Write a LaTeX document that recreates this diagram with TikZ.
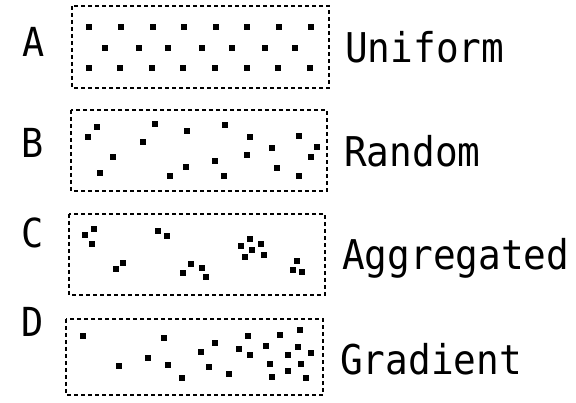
\documentclass[tikz,border=0pt]{standalone}
\usepackage{fontspec}
\setmainfont{DejaVu Sans Mono}
\begin{document}
\begin{tikzpicture}[x=1pt,y=-1pt,
  boxline/.style={line width=2.2pt,dash pattern=on 4pt off 3pt},
  lettertxt/.style={font=\fontsize{40}{40}\selectfont,inner sep=0pt,anchor=base},
  nametxt/.style={font=\fontsize{41}{41}\selectfont,inner sep=0pt,anchor=base west}]
\useasboundingbox (0,0) rectangle (576,403);
% letters
\node[lettertxt] (la) at (34,57) {\scalebox{0.92}[1]{A}};
\node[lettertxt] (lb) at (33,158) {\scalebox{0.92}[1]{B}};
\node[lettertxt] (lc) at (33,248) {\scalebox{0.92}[1]{C}};
\node[lettertxt] (ld) at (33,337) {\scalebox{0.92}[1]{D}};
% boxes
\draw[boxline] (72,6) rectangle (329,88);
\draw[boxline] (71,110) rectangle (327,191);
\draw[boxline] (69,214) rectangle (325,295);
\draw[boxline] (66,319) rectangle (323,395);
% names
\node[nametxt] (na) at (345,63) {\scalebox{0.92}[1]{Uniform}};
\node[nametxt] (nb) at (344,167) {\scalebox{0.92}[1]{Random}};
\node[nametxt] (nc) at (342,270) {\scalebox{0.92}[1]{Aggregated}};
\node[nametxt] (nd) at (340,375) {\scalebox{0.92}[1]{Gradient}};
% dots
\def\ds{3.1}
\foreach \x/\y in {
 89.3/27,121/27,152.7/27,184/27,215.7/27,247.3/27,279/27,310.7/27,
 105/48,139/48,168.3/48,201.7/48,231.7/48,265/48,295/48,
 89.3/68,120/68,151.7/68,182.7/68,215/68,246.7/68,278.3/68,310/68,
 96.7/127.3,87.7/137.3,155/124.3,186.7/131,225/125,143.3/142.3,250/137.3,299.3/135.7,
 272.3/148.3,317.3/147.3,113.3/157.3,246.7/155,215/161,310.7/157.3,100/172.7,170/176,
 186/167,224/176.3,276.7/168.3,298.7/175.7,
 85/235,94.3/229.3,91.7/244,116/269,123.3/262.7,157.7/230.7,166.7/235.7,191/263.7,
 183.3/272.7,201.7/268.3,205.7/277,250/238.7,240.7/246,261.3/244,252.3/250.3,245/257.3,
 264/255.3,297.3/261,292.7/270.3,301.7/272.3,
 83.3/336.3,164.3/337.7,248.3/336.3,279.7/334.7,300/329.7,215/342.7,265.7/346,297.7/346.7,
 200.7/351.7,239/349.3,250/354.7,288.3/355.3,310.7/353,148.3/357.7,118.7/366,167.7/365,
 209/367.3,270/364,301/364,182.3/377.7,229.3/374.3,271.7/377,288.3/371,306/377.7}
  \fill (\x-\ds,\y-\ds) rectangle (\x+\ds,\y+\ds);
\end{tikzpicture}
\end{document}
